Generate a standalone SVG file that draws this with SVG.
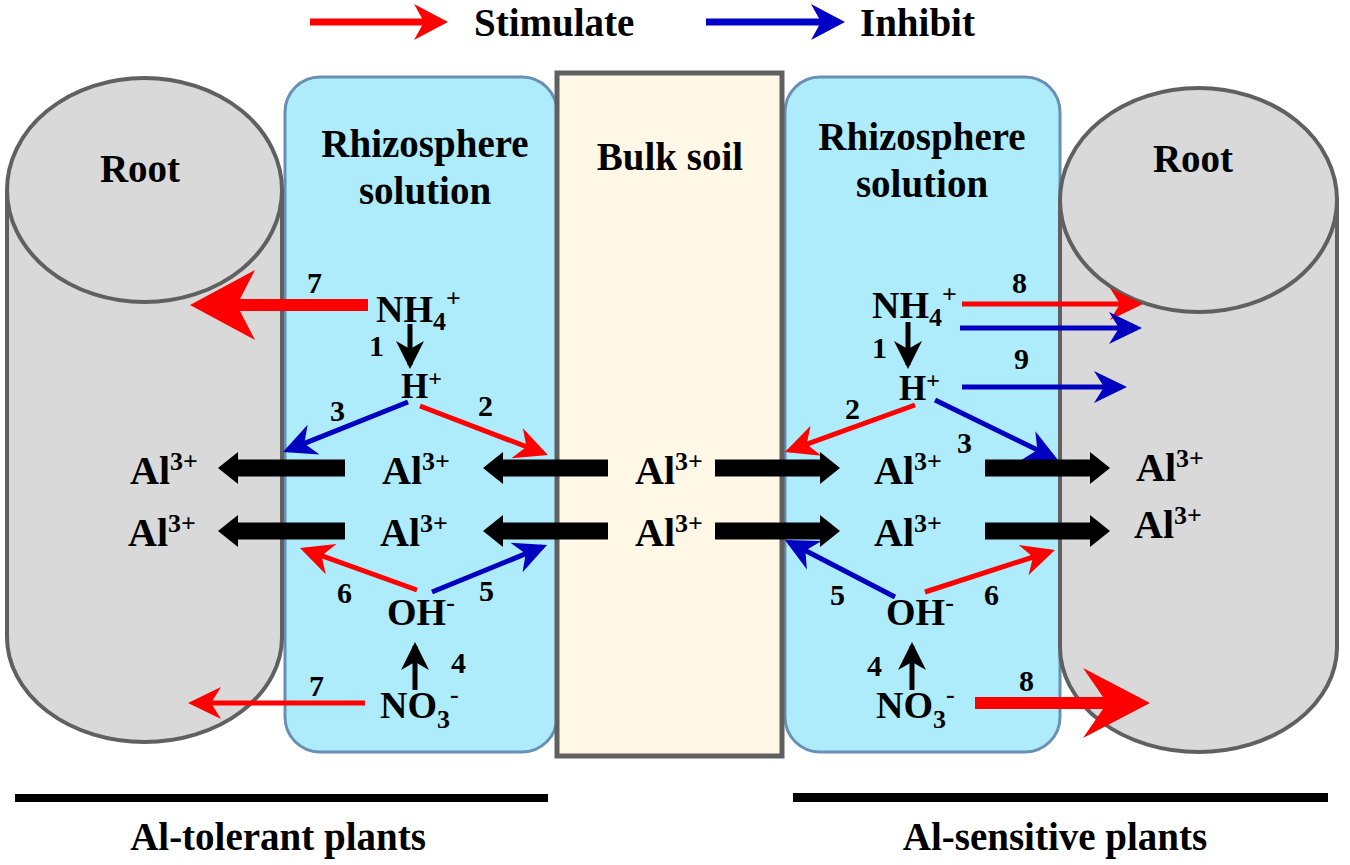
<svg xmlns="http://www.w3.org/2000/svg" width="1350" height="865" viewBox="0 0 1350 865">
<defs>
<style>
.t{font-family:"Liberation Serif","Times New Roman",serif;font-weight:bold;fill:#000}
.h{font-size:39px}
.s{font-size:38px}
.al{font-size:40px}
.hp{font-size:35px}
.n{font-size:30px}
.root{fill:#d9d9d9;stroke:#606060;stroke-width:4}
.panel{fill:#aeecfb;stroke:#6890b4;stroke-width:3}
.bulk{fill:#fff8e6;stroke:#606060;stroke-width:5}
.r{stroke:#f00;stroke-width:5;fill:none;marker-end:url(#ar)}
.b{stroke:#0000c0;stroke-width:5;fill:none;marker-end:url(#ab)}
.k{stroke:#000;stroke-width:5;fill:none;marker-end:url(#ak)}
.blk{fill:#000}
.big{fill:#f00}
</style>
<marker id="ar" markerUnits="userSpaceOnUse" markerWidth="34" markerHeight="34" refX="28" refY="17" orient="auto" overflow="visible"><path d="M0,1 L33,17 L0,33 L10,17 Z" fill="#f00"/></marker>
<marker id="ab" markerUnits="userSpaceOnUse" markerWidth="34" markerHeight="34" refX="28" refY="17" orient="auto" overflow="visible"><path d="M0,1 L33,17 L0,33 L10,17 Z" fill="#0000c0"/></marker>
<marker id="ak" markerUnits="userSpaceOnUse" markerWidth="30" markerHeight="30" refX="24" refY="15" orient="auto" overflow="visible"><path d="M0,1 L28,15 L0,29 L8,15 Z" fill="#000"/></marker>
</defs>
<rect width="1350" height="865" fill="#fff"/>

<g id="legend">
<line x1="310" y1="22" x2="425" y2="22" stroke="#f00" stroke-width="7"/>
<polygon points="448,22 414,4 424,22 414,40" fill="#f00"/>
<text x="474" y="36" class="t h">Stimulate</text>
<line x1="706" y1="22" x2="822" y2="22" stroke="#0000c8" stroke-width="7"/>
<polygon points="845,22 811,4 821,22 811,40" fill="#0000c8"/>
<text x="860" y="36" class="t h">Inhibit</text>
</g>

<g id="rhizosphere-left">
<rect class="panel" x="285" y="77" width="272" height="675" rx="35"/>
<text x="425" y="157" class="t h" text-anchor="middle">Rhizosphere</text>
<text x="425" y="204" class="t h" text-anchor="middle">solution</text>
</g>
<g id="rhizosphere-right">
<rect class="panel" x="785" y="77" width="275" height="675" rx="35"/>
<text x="922" y="150" class="t h" text-anchor="middle">Rhizosphere</text>
<text x="922" y="197" class="t h" text-anchor="middle">solution</text>
</g>
<g id="bulk-soil">
<rect class="bulk" x="557" y="73" width="225" height="683"/>
<text x="670" y="170" class="t h" text-anchor="middle">Bulk soil</text>
</g>
<g id="root-left">
<path class="root" d="M7,190 V637 A137.5,105 0 0 0 282,637 V190 Z"/>
<ellipse class="root" cx="144.5" cy="190" rx="137.5" ry="112"/>
<text x="140" y="182" class="t h" text-anchor="middle">Root</text>
</g>
<g id="root-right">
<path class="root" d="M1060,200 V647 A138.5,105 0 0 0 1337,647 V200 Z"/>
<ellipse class="root" cx="1198.5" cy="200" rx="138.5" ry="112"/>
<text x="1193" y="172" class="t h" text-anchor="middle">Root</text>
</g>

<g id="connectors">
<polygon class="big" points="190,305 255,270 240,299 368,299 368,311 240,311 255,340"/>
<polygon class="big" points="1150,703 1083,668 1103,697 975,697 975,709 1103,709 1083,738"/>
<line class="k" x1="410" y1="324" x2="410" y2="365"/>
<line class="k" x1="415" y1="690" x2="415" y2="646"/>
<line class="k" x1="908" y1="322" x2="908" y2="365"/>
<line class="k" x1="912" y1="690" x2="912" y2="646"/>
<line class="b" x1="408" y1="402" x2="287.6" y2="450.1"/>
<line class="r" x1="420" y1="406" x2="543.3" y2="453.2"/>
<line class="r" x1="417" y1="590" x2="304.7" y2="549.7"/>
<line class="b" x1="432" y1="592" x2="542.4" y2="546.9"/>
<line class="r" x1="365" y1="703" x2="193" y2="703"/>
<line class="r" x1="962" y1="304" x2="1138" y2="304"/>
<line class="b" x1="960" y1="328" x2="1137" y2="328"/>
<line class="b" x1="962" y1="387" x2="1122" y2="387"/>
<line class="r" x1="915" y1="405" x2="789.7" y2="450.3"/>
<line class="b" x1="935" y1="400" x2="1053.5" y2="457.8"/>
<line class="b" x1="895" y1="597" x2="789.4" y2="542.3"/>
<line class="r" x1="925" y1="592" x2="1050.2" y2="551.5"/>
<polygon class="blk" points="218,468 238,452 238,459.5 345,459.5 345,476.5 238,476.5 238,484"/>
<polygon class="blk" points="483,468 503,452 503,459.5 608,459.5 608,476.5 503,476.5 503,484"/>
<polygon class="blk" points="840,468 820,452 820,459.5 715,459.5 715,476.5 820,476.5 820,484"/>
<polygon class="blk" points="1110,468 1090,452 1090,459.5 985,459.5 985,476.5 1090,476.5 1090,484"/>
<polygon class="blk" points="218,531 238,515 238,522.5 345,522.5 345,539.5 238,539.5 238,547"/>
<polygon class="blk" points="483,531 503,515 503,522.5 608,522.5 608,539.5 503,539.5 503,547"/>
<polygon class="blk" points="840,531 820,515 820,522.5 715,522.5 715,539.5 820,539.5 820,547"/>
<polygon class="blk" points="1110,531 1090,515 1090,522.5 985,522.5 985,539.5 1090,539.5 1090,547"/>
</g>

<g id="species-left">
<text x="376" y="322" class="t s">NH<tspan font-size="26" dy="8">4</tspan><tspan font-size="26" dy="-23">+</tspan></text>
<text x="401" y="398" class="t hp">H<tspan font-size="24" dy="-12">+</tspan></text>
<text x="130" y="484" class="t al">Al<tspan font-size="26" dy="-14">3+</tspan></text>
<text x="128" y="546" class="t al">Al<tspan font-size="26" dy="-14">3+</tspan></text>
<text x="382" y="484" class="t al">Al<tspan font-size="26" dy="-14">3+</tspan></text>
<text x="380" y="546" class="t al">Al<tspan font-size="26" dy="-14">3+</tspan></text>
<text x="387" y="625" class="t s">OH<tspan font-size="26" dy="-14">-</tspan></text>
<text x="380" y="718" class="t s">NO<tspan font-size="26" dy="10">3</tspan><tspan font-size="26" dy="-25">-</tspan></text>
</g>
<g id="species-bulk">
<text x="635" y="484" class="t al">Al<tspan font-size="26" dy="-14">3+</tspan></text>
<text x="635" y="546" class="t al">Al<tspan font-size="26" dy="-14">3+</tspan></text>
</g>
<g id="species-right">
<text x="872" y="318" class="t s">NH<tspan font-size="26" dy="8">4</tspan><tspan font-size="26" dy="-23">+</tspan></text>
<text x="899" y="400" class="t hp">H<tspan font-size="24" dy="-12">+</tspan></text>
<text x="874" y="484" class="t al">Al<tspan font-size="26" dy="-14">3+</tspan></text>
<text x="874" y="546" class="t al">Al<tspan font-size="26" dy="-14">3+</tspan></text>
<text x="1136" y="481" class="t al">Al<tspan font-size="26" dy="-14">3+</tspan></text>
<text x="1134" y="538" class="t al">Al<tspan font-size="26" dy="-14">3+</tspan></text>
<text x="886" y="625" class="t s">OH<tspan font-size="26" dy="-14">-</tspan></text>
<text x="876" y="718" class="t s">NO<tspan font-size="26" dy="10">3</tspan><tspan font-size="26" dy="-25">-</tspan></text>
</g>
<g id="numbers">
<text x="307" y="293" class="t n">7</text>
<text x="369" y="356" class="t n">1</text>
<text x="330" y="421" class="t n">3</text>
<text x="478" y="416" class="t n">2</text>
<text x="337" y="603" class="t n">6</text>
<text x="479" y="601" class="t n">5</text>
<text x="451" y="673" class="t n">4</text>
<text x="309" y="696" class="t n">7</text>
<text x="1012" y="293" class="t n">8</text>
<text x="872" y="358" class="t n">1</text>
<text x="1014" y="369" class="t n">9</text>
<text x="845" y="419" class="t n">2</text>
<text x="957" y="453" class="t n">3</text>
<text x="830" y="605" class="t n">5</text>
<text x="984" y="605" class="t n">6</text>
<text x="867" y="676" class="t n">4</text>
<text x="1019" y="691" class="t n">8</text>
</g>
<g id="footer">
<rect x="15" y="794" width="533" height="8" fill="#000"/>
<rect x="793" y="793" width="535" height="9" fill="#000"/>
<text x="278" y="850" class="t h" text-anchor="middle">Al-tolerant plants</text>
<text x="1055" y="850" class="t h" text-anchor="middle">Al-sensitive plants</text>
</g>
</svg>
